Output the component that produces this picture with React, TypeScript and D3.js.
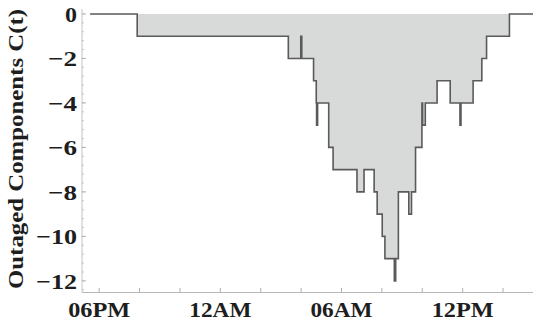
import React from "react";
import * as d3 from "d3";

// step changes of C(t): day ("1" = evening, "2" = next day), clock time, value after the step
const stepTimes = [
  "1 17:33", "1 19:53", "2 03:22", "2 03:59", "2 04:02", "2 04:37", "2 04:45", "2 04:46",
  "2 04:49", "2 05:22", "2 05:35", "2 06:46", "2 07:07", "2 07:37", "2 07:46", "2 08:01",
  "2 08:09", "2 08:37", "2 08:41", "2 08:49", "2 09:20", "2 09:28", "2 09:40", "2 09:59",
  "2 10:01", "2 10:09", "2 10:44", "2 11:23", "2 11:52", "2 11:55", "2 12:31", "2 12:57",
  "2 13:11", "2 14:19", "2 16:00",
];
const stepValues = [
  0, -1, -2, -1, -2, -3, -4, -5,
  -4, -6, -7, -8, -7, -8, -9, -10,
  -11, -12, -11, -8, -9, -8, -6, -4,
  -5, -4, -3, -4, -5, -4, -3, -2,
  -1, 0, 0,
];
const xTickTimes = ["1 18:00", "1 20:00", "1 22:00", "2 00:00", "2 02:00", "2 04:00", "2 06:00", "2 08:00", "2 10:00", "2 12:00", "2 14:00"];
const xLabelTimes = ["1 18:00", "2 00:00", "2 06:00", "2 12:00"];
const yTickValues = [0, -2, -4, -6, -8, -10, -12];

const parse = (s: string) => {
  const [d, hm] = s.split(" ");
  const [h, m] = hm.split(":").map(Number);
  return new Date(2020, 0, Number(d), h, m);
};

const App = () => {
  const width = 533;
  const height = 324;
  const font = "'Liberation Serif', 'Times New Roman', serif";

  const data = stepTimes.map((t, i) => ({ t: parse(t), v: stepValues[i] }));

  const x = d3.scaleTime()
    .domain([new Date(2020, 0, 1, 17, 9.5), new Date(2020, 0, 2, 15, 29.5)])
    .range([82, 533]);
  const y = d3.scaleLinear().domain([-12.5, 0.2]).range([292, 9.5]);

  const area = d3.area<{ t: Date; v: number }>()
    .x((d) => x(d.t))
    .y0(y(0))
    .y1((d) => y(d.v))
    .curve(d3.curveStepAfter);
  const line = d3.line<{ t: Date; v: number }>()
    .x((d) => x(d.t))
    .y((d) => y(d.v))
    .curve(d3.curveStepAfter);

  const fmt = d3.timeFormat("%I%p");
  const minorY = d3.range(0, -12.41, -0.4);
  const labelLen = (v: number) => (v < 0 ? 17 : 0) + String(Math.abs(v)).length * 12;

  return (
    <svg width={width} height={height} style={{ position: "absolute", left: 0, top: 0 }}>
      <rect width={width} height={height} fill="white" />
      <defs>
        <clipPath id="plot">
          <rect x={82} y={0} width={width - 82} height={292} />
        </clipPath>
      </defs>
      <g clipPath="url(#plot)">
        <path d={area(data) ?? ""} fill="#d8dada" />
        <path d={line(data) ?? ""} fill="none" stroke="#5a5a5a" strokeWidth={1.6} />
      </g>

      {/* axes */}
      <line x1={82} y1={9} x2={82} y2={292.5} stroke="#c4c4c4" strokeWidth={1} />
      <line x1={82} y1={292.5} x2={width} y2={292.5} stroke="#b8b8b8" strokeWidth={1} />
      {minorY.map((v, i) => (
        <line key={"my" + i} x1={82} x2={84} y1={y(v)} y2={y(v)} stroke="#c4c4c4" />
      ))}
      {yTickValues.map((v) => (
        <g key={"y" + v}>
          <line x1={82} x2={86} y1={y(v)} y2={y(v)} stroke="#b0b0b0" />
          <text
            x={77}
            y={y(v)}
            dy="0.35em"
            textAnchor="end"
            fontFamily={font}
            fontWeight="bold"
            fontSize={22}
            fill="#1e1e1e"
            textLength={labelLen(v)}
            lengthAdjust="spacingAndGlyphs"
          >
            {v < 0 ? "\u2212" + Math.abs(v) : v}
          </text>
        </g>
      ))}
      {xTickTimes.map((s) => (
        <line key={s} x1={x(parse(s))} x2={x(parse(s))} y1={292.5} y2={288} stroke="#b0b0b0" />
      ))}
      {xLabelTimes.map((s) => (
        <text
          key={"l" + s}
          x={x(parse(s))}
          y={316.5}
          textAnchor="middle"
          fontFamily={font}
          fontWeight="bold"
          fontSize={22}
          fill="#1e1e1e"
          textLength={62}
          lengthAdjust="spacingAndGlyphs"
        >
          {fmt(parse(s))}
        </text>
      ))}
      <text
        transform="translate(23,149) rotate(-90)"
        textAnchor="middle"
        fontFamily={font}
        fontWeight="bold"
        fontSize={22}
        fill="#1e1e1e"
        textLength={280}
        lengthAdjust="spacingAndGlyphs"
      >
        Outaged Components C(t)
      </text>
    </svg>
  );
};

export default App;
